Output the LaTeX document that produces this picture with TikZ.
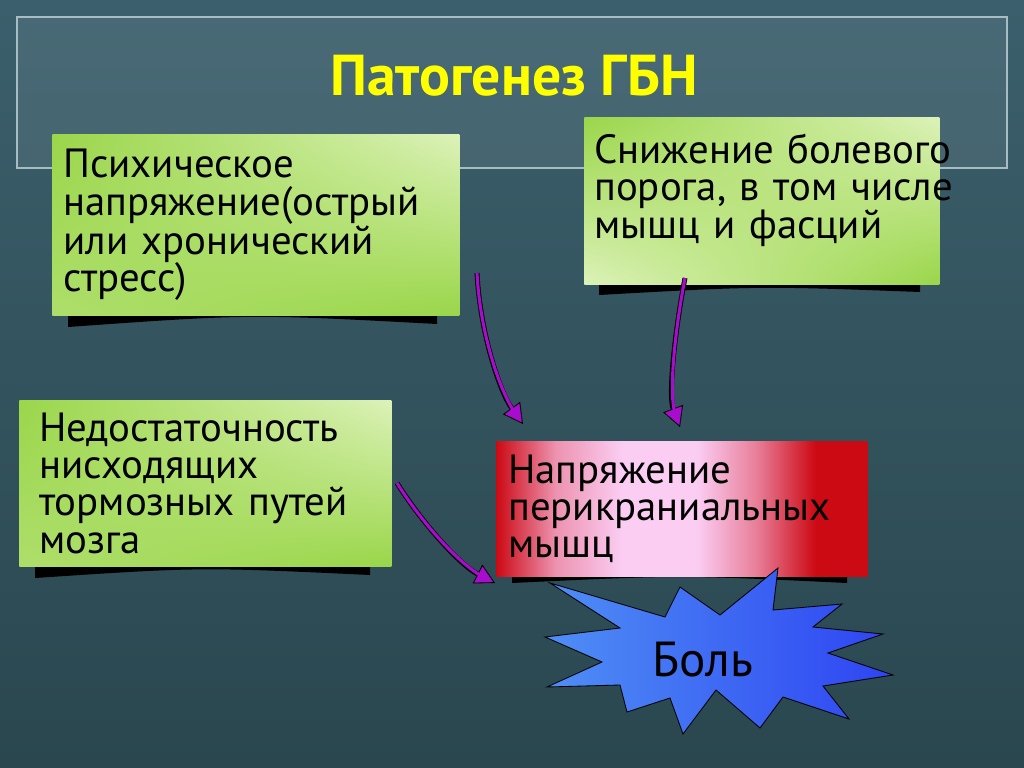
\documentclass[tikz,border=0pt]{standalone}
\usepackage{fontspec}
\setmainfont{PT Sans}
\usetikzlibrary{arrows.meta,shadings}

\definecolor{bgtop}{HTML}{3B5F6C}
\definecolor{bgbot}{HTML}{2A474F}
\definecolor{frameline}{HTML}{A8BCC4}
\definecolor{leafgreen}{HTML}{9AD64A}
\definecolor{palegreen}{HTML}{DCF2B8}
\definecolor{deepred}{HTML}{CC0A14}
\definecolor{softpink}{HTML}{FBCDF3}
\definecolor{starblue}{HTML}{2E44F2}
\definecolor{skyblue}{HTML}{4F8FF5}
\definecolor{arrpurple}{HTML}{A80CCC}
\definecolor{titleyellow}{HTML}{FFFF00}

\pgfdeclarehorizontalshading{tensionshade}{100bp}{color(0bp)=(deepred);
  color(25bp)=(deepred); color(33bp)=(softpink!70!deepred);
  color(42bp)=(softpink); color(52bp)=(softpink); color(60bp)=(softpink!60!deepred);
  color(68bp)=(deepred); color(100bp)=(deepred)}

\tikzset{
  titleframe/.style={draw=frameline, line width=1pt, fill=white, fill opacity=0.07},
  titletext/.style={text=titleyellow, font=\fontsize{41}{44}\selectfont\bfseries},
  boxshadow/.style={fill=black},
  slidebox/.style={anchor=north west, align=left, inner ysep=0pt,
    font=\fontsize{29}{26.5}\selectfont},
  greenbox/.style={slidebox, upper left=leafgreen, upper right=palegreen,
    lower left=leafgreen!70!palegreen, lower right=leafgreen},
  redbox/.style={slidebox, shading=tensionshade},
  burst/.style={draw=black, line width=0.6pt, left color=skyblue, right color=starblue},
  paintext/.style={font=\fontsize{35}{36}\selectfont},
  causearrow/.style={draw=black, line width=3.5pt,
    -{Triangle[length=14pt, width=15pt, fill=arrpurple, line width=0.6pt]},
    postaction={draw=arrpurple, line width=2.2pt, shorten >=9pt, -}}
}

\begin{document}
\begin{tikzpicture}[x=0.025cm, y=-0.025cm]
  % background
  \shade[top color=bgtop, bottom color=bgbot] (0,0) rectangle (1024,768);
  \useasboundingbox (0,0) rectangle (1024,768);
  \draw[titleframe] (17,17) rectangle (1007,168);
  \node[titletext, anchor=base] (title) at (514,96) {Патогенез ГБН};

  % shadows under the boxes
  \fill[boxshadow] (68,300) -- (68,327) .. controls (250,314) .. (437,324) -- (437,300) -- cycle;
  \fill[boxshadow] (599,270) -- (599,295) .. controls (760,286) .. (920,292) -- (920,270) -- cycle;
  \fill[boxshadow] (35,550) -- (35,578) .. controls (200,567) .. (370,575) -- (370,550) -- cycle;
  \fill[boxshadow] (512,560) -- (512,583) .. controls (680,575) .. (847,583) -- (847,560) -- cycle;

  % boxes
  \node[greenbox, minimum width=10.175cm, minimum height=4.525cm,
    text width=9.625cm, inner xsep=0.275cm] (psy) at (52,134)
    {Психическое\\напряжение(острый\\или хронический\\стресс)};
  \node[greenbox, upper left=leafgreen, upper right=palegreen,
    lower left=palegreen, lower right=leafgreen,
    minimum width=8.875cm, minimum height=4.175cm, text width=8.375cm,
    inner xsep=0.25cm, inner ysep=0.35cm, text depth=2.6cm] (thresh) at (584,117)
    {Снижение~болевого\\порога,~в~том~числе\\мышц и фасций};
  \node[greenbox, minimum width=9.3cm, minimum height=4.15cm,
    text width=8.3cm, inner xsep=0.5cm] (inhib) at (19,400)
    {Недостаточность\\нисходящих\\тормозных путей\\мозга};
  \node[redbox, minimum width=9.275cm, minimum height=3.375cm,
    text width=8.675cm, inner xsep=0.3cm] (tension) at (496,441)
    {Напряжение\\перикраниальных\\мышц};

  % pain burst
  \shadedraw[burst] (680,587) -- (720,615) -- (778,568) -- (773,610) -- (842,604)
    -- (813,627) -- (883,634) -- (828,653) -- (893,675) -- (823,686) -- (849,719)
    -- (783,697) -- (760,728) -- (716,690) -- (683,734) -- (670,698) -- (627,712)
    -- (620,685) -- (547,687) -- (602,662) -- (545,637) -- (620,628) -- (550,583)
    -- (665,617) -- cycle;
  \node[paintext, anchor=base] (pain) at (703,676) {Боль};

  % arrows
  \coordinate (a1s) at (477,273);
  \coordinate (a1e) at (523,424);
  \coordinate (a2s) at (685,278);
  \coordinate (a2e) at (680,427);
  \coordinate (a3s) at (397,483);
  \coordinate (a3e) at (495,583);
  \draw[causearrow] (a1s) .. controls +(3,60) and +(-23,-32) .. (a1e);
  \draw[causearrow] (a2s) .. controls +(-10,52) and +(-12,-32) .. (a2e);
  \draw[causearrow] (a3s) .. controls +(25,40) and +(-35,-18) .. (a3e);
\end{tikzpicture}
\end{document}
